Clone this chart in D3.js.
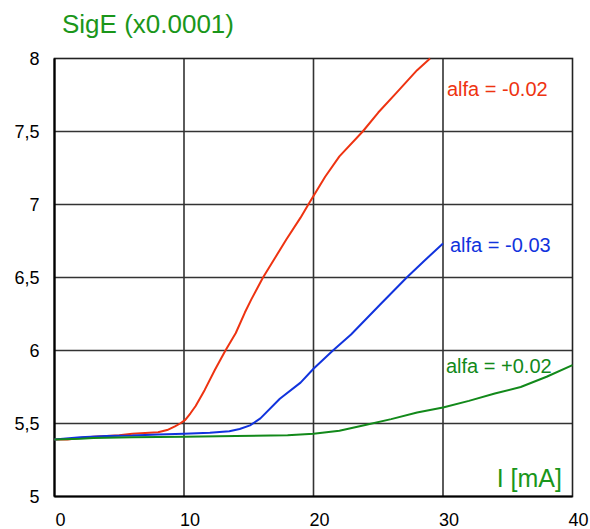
<!DOCTYPE html>
<html>
<head>
<meta charset="utf-8">
<script src="https://cdn.jsdelivr.net/npm/d3@7"></script>
<style>
  html, body { margin: 0; padding: 0; background: #fff; }
  svg { display: block; font-family: "Liberation Sans", Arial, sans-serif; }
</style>
</head>
<body>
<svg id="chart" width="590" height="529"></svg>
<script>
// Current I [mA] and SigE (x0.0001) samples for each alfa
const redI   = [0, 1, 2, 3, 4, 5, 6, 7, 8, 8.7, 9.3, 9.7, 10.1, 10.5, 10.9, 11.6, 12.4, 13.2, 14, 14.7, 15.2, 16.1, 17, 17.9, 19, 19.6, 20.9, 22, 23.8, 25, 26.4, 28, 29];
const redV   = [5.39, 5.39, 5.40, 5.41, 5.415, 5.42, 5.43, 5.435, 5.44, 5.455, 5.48, 5.50, 5.525, 5.57, 5.62, 5.73, 5.87, 6.0, 6.12, 6.26, 6.35, 6.5, 6.63, 6.76, 6.91, 7.0, 7.19, 7.33, 7.5, 7.63, 7.765, 7.92, 8.0];

const blueI  = [0, 2, 4, 6, 8, 10, 12, 13.5, 14.3, 15.1, 15.9, 17.4, 19, 20, 21.5, 22.9, 25.15, 27.2, 28.5, 30];
const blueV  = [5.39, 5.405, 5.415, 5.418, 5.425, 5.43, 5.437, 5.447, 5.462, 5.487, 5.535, 5.67, 5.78, 5.875, 6.0, 6.11, 6.315, 6.5, 6.61, 6.733];

const greenI = [0, 2, 3, 6, 10, 14, 18, 20, 22, 24, 26, 28, 30, 32, 34, 36, 38, 40];
const greenV = [5.39, 5.395, 5.40, 5.405, 5.41, 5.415, 5.42, 5.43, 5.45, 5.49, 5.53, 5.575, 5.61, 5.655, 5.705, 5.75, 5.82, 5.9];

const seriesNames  = ["alfa = -0.02", "alfa = -0.03", "alfa = +0.02"];
const seriesColors = ["#ee3311", "#1133dd", "#12891a"];

const xTicks = [0, 10, 20, 30, 40];
const yTicks = [5, 5.5, 6, 6.5, 7, 7.5, 8];

const svg = d3.select("#chart");
const plotL = 54.5, plotR = 572.5, plotT = 58.5, plotB = 496.5;

const x = d3.scaleLinear().domain([0, 40]).range([plotL, plotR]);
const y = d3.scaleLinear().domain([5, 8]).range([plotB, plotT]);

const fmt = d => String(d).replace(".", ",");

// grid
const grid = svg.append("g");
grid.selectAll("line.vx").data(xTicks.slice(1, -1)).join("line")
  .attr("x1", d => x(d)).attr("x2", d => x(d))
  .attr("y1", plotT).attr("y2", plotB)
  .attr("stroke", "#333").attr("stroke-width", 1.6);
grid.selectAll("line.hy").data(yTicks.slice(1, -1)).join("line")
  .attr("x1", plotL).attr("x2", plotR)
  .attr("y1", d => y(d)).attr("y2", d => y(d))
  .attr("stroke", "#333").attr("stroke-width", 1.6);

// frame
svg.append("rect")
  .attr("x", plotL).attr("y", plotT)
  .attr("width", plotR - plotL).attr("height", plotB - plotT)
  .attr("fill", "none").attr("stroke", "#222").attr("stroke-width", 1.6);
svg.append("line").attr("x1", plotL).attr("x2", plotL).attr("y1", plotT).attr("y2", plotB)
  .attr("stroke", "#000").attr("stroke-width", 2.2);
svg.append("line").attr("x1", plotL).attr("x2", plotR).attr("y1", plotB).attr("y2", plotB)
  .attr("stroke", "#000").attr("stroke-width", 2.2);

// axes (labels only; grid drawn above)
const xAxis = d3.axisBottom(x).tickValues(xTicks).tickSize(0).tickFormat(d => d);
const gx = svg.append("g").attr("transform", `translate(5.5,${plotB + 14})`).call(xAxis);
gx.select(".domain").remove();
gx.selectAll("text").attr("font-size", 18).attr("fill", "#000")
  .attr("font-family", "Liberation Sans, Arial, sans-serif");

const yAxis = d3.axisLeft(y).tickValues(yTicks).tickSize(0).tickFormat(fmt);
const gy = svg.append("g").attr("transform", `translate(${plotL - 12},0)`).call(yAxis);
gy.select(".domain").remove();
gy.selectAll("text").attr("font-size", 18).attr("fill", "#000")
  .attr("font-family", "Liberation Sans, Arial, sans-serif");

// curves
const series = [
  { I: redI, V: redV },
  { I: blueI, V: blueV },
  { I: greenI, V: greenV }
];
const line = d3.line().x(d => x(d[0])).y(d => y(d[1]));
series.forEach((s, k) => {
  svg.append("path")
    .datum(s.I.map((v, i) => [v, s.V[i]]))
    .attr("d", line)
    .attr("fill", "none")
    .attr("stroke", seriesColors[k])
    .attr("stroke-width", 2)
    .attr("stroke-linejoin", "round");
});

// series labels
const labelPos = [[447, 96], [450, 252], [446, 373]];
seriesNames.forEach((t, k) => {
  svg.append("text")
    .attr("x", labelPos[k][0]).attr("y", labelPos[k][1])
    .attr("font-size", 20)
    .attr("fill", seriesColors[k])
    .text(t);
});

// axis titles
svg.append("text").attr("x", 62).attr("y", 33)
  .attr("font-size", 26).attr("fill", "#1a961a").text("SigE (x0.0001)");
svg.append("text").attr("x", 562).attr("y", 487).attr("text-anchor", "end")
  .attr("font-size", 25).attr("fill", "#1a961a").text("I [mA]");
</script>
</body>
</html>
